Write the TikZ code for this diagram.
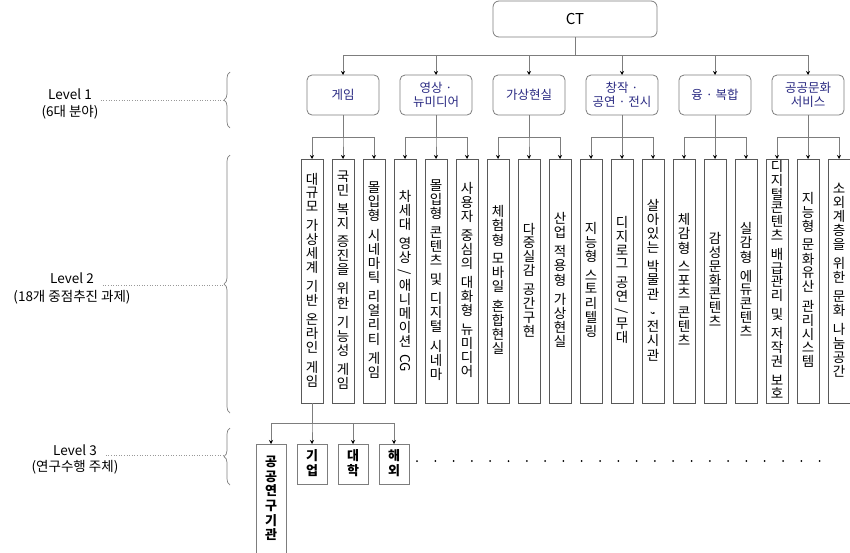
\documentclass[tikz,border=0pt]{standalone}
\usepackage{fontspec}
\setmainfont{Noto Sans CJK KR}
\usetikzlibrary{arrows.meta, positioning, decorations.pathreplacing}

\definecolor{navytxt}{RGB}{42,42,130}
\definecolor{linegray}{RGB}{125,125,125}

% characters stacked top to bottom, a space gives a small gap
\ExplSyntaxOn
\tl_new:N \l_vt_tl
\NewDocumentCommand \vtext { O{13.5pt} m }
  {
    \tl_set:Nn \l_vt_tl {#2}
    \tl_replace_all:Nnn \l_vt_tl { ~ } { \vtgap }
    \vbox
      {
        \offinterlineskip
        \tl_map_inline:Nn \l_vt_tl
          {
            \str_if_eq:nnTF { ##1 } { \vtgap }
              { \kern 5pt }
              {
                \hbox_to_wd:nn { 1.2em }
                  { \hss \rule[-0.22\dimexpr#1\relax]{0pt}{#1} ##1 \hss }
              }
          }
      }
  }
\ExplSyntaxOff
\newcommand{\vrot}[1]{\rotatebox[origin=c]{-90}{#1}}

\begin{document}
\begin{tikzpicture}[
    x = 1pt, y = -1pt, % pixel grid of the reference
    line width = 0.8pt,
    outer sep = 0pt,
    font = \fontsize{12.5pt}{13.5pt}\selectfont
]
\useasboundingbox (0,0) rectangle (850,552);

\tikzstyle{head}=[draw=linegray, rounded corners=6pt, minimum width=164pt, minimum height=36pt, font=\fontsize{15pt}{17pt}\selectfont]
\tikzstyle{field}=[draw=linegray, rounded corners=5pt, minimum width=72pt, minimum height=40pt, inner sep=0pt, align=center, text=navytxt]
\tikzstyle{task}=[draw=black!65, minimum width=22pt, minimum height=244pt, inner sep=0pt, font=\fontsize{13.5pt}{13.5pt}\selectfont]
\tikzstyle{actor}=[draw=linegray, minimum width=30pt, inner sep=0pt, font=\fontsize{13pt}{14pt}\selectfont\bfseries]
\tikzstyle{lvtext}=[font=\fontsize{13.5pt}{14pt}\selectfont, inner sep=1pt]
\tikzstyle{link}=[draw=linegray, -{Stealth[black, length=4pt, width=4pt]}]
\tikzstyle{guide}=[draw=gray!80, dotted, line width=0.6pt]
\tikzstyle{brace}=[draw=gray, decorate, decoration={brace, amplitude=6pt}, line width=0.7pt]

\node[head] (ct) at (575,19) {CT};

% Level 1
\node[field] (g1) at (343,95) {게임};
\node[field, right=21pt of g1] (g2) {영상 ·\\뉴미디어};
\node[field, right=21pt of g2] (g3) {가상현실};
\node[field, right=21pt of g3] (g4) {창작 ·\\공연 · 전시};
\node[field, right=21pt of g4] (g5) {융 · 복합};
\node[field, right=21pt of g5] (g6) {공공문화\\서비스};

% Level 2
\node[task, below=44pt of g1] (t2) {\vtext{국민 복지 증진을 위한 기능성 게임}};
\node[task, left=9pt of t2] (t1) {\vtext{대규모 가상세계 기반 온라인 게임}};
\node[task, right=9pt of t2] (t3) {\vtext{몰입형 시네마틱 리얼리티 게임}};
\node[task, below=44pt of g2] (t5) {\vtext{몰입형 콘텐츠 및 디지털 시네마}};
\node[task, left=9pt of t5] (t4) {\vtext{차세대 영상{\vrot{/}}애니메이션 {\vrot{CG}}}};
\node[task, right=9pt of t5] (t6) {\vtext{사용자 중심의 대화형 뉴미디어}};
\node[task, below=44pt of g3] (t8) {\vtext{다중실감 공간구현}};
\node[task, left=9pt of t8] (t7) {\vtext{체험형 모바일 혼합현실}};
\node[task, right=9pt of t8] (t9) {\vtext{산업 적용형 가상현실}};
\node[task, below=44pt of g4] (t11) {\vtext{디지로그 공연{\vrot{/}}무대}};
\node[task, left=9pt of t11] (t10) {\vtext{지능형 스토리텔링}};
\node[task, right=9pt of t11] (t12) {\vtext{살아있는 박물관{\vrot{,}} 전시관}};
\node[task, below=44pt of g5] (t14) {\vtext{감성문화콘텐츠}};
\node[task, left=9pt of t14] (t13) {\vtext{체감형 스포츠 콘텐츠}};
\node[task, right=9pt of t14] (t15) {\vtext{실감형 에듀콘텐츠}};
\node[task, below=44pt of g6] (t17) {\vtext{지능형 문화유산 관리시스템}};
\node[task, left=9pt of t17] (t16) {\vtext[12.8pt]{디지털콘텐츠 배급관리 및 저작권 보호}};
\node[task, right=9pt of t17] (t18) {\vtext{소외계층을 위한 문화 나눔공간}};

% Level 3
\node[actor, minimum height=40pt, below=41pt of t1] (r2) {\vtext[14.7pt]{기업}};
\node[actor, minimum height=110pt, left=11pt of r2.north west, anchor=north east] (r1) {\vtext[14.7pt]{공공연구기관}};
\node[actor, minimum height=40pt, right=11pt of r2] (r3) {\vtext[14.7pt]{대학}};
\node[actor, minimum height=40pt, right=11pt of r3] (r4) {\vtext[14.7pt]{해외}};
\foreach \i in {0,...,22}
    \fill (417+18.3*\i,461) circle (1pt);

% connectors
\foreach \g in {g1,g2,g3,g4,g5,g6}
    \draw[link] (ct.south) -- ++(0,18) -| (\g.north);
\foreach \a/\b in {g1/t1,g1/t2,g1/t3,g2/t4,g2/t5,g2/t6,g3/t7,g3/t8,g3/t9,
                   g4/t10,g4/t11,g4/t12,g5/t13,g5/t14,g5/t15,g6/t16,g6/t17,g6/t18}
    \draw[link] (\a.south) -- ++(0,22) -| (\b.north);
\foreach \r in {r1,r2,r3,r4}
    \draw[link] (t1.south) -- ++(0,20) -| (\r.north);

% level labels
\draw[brace] (230,128) -- (230,72);
\draw[brace] (230,413) -- (230,155);
\draw[brace] (230,485) -- (230,428);
\coordinate (tip1) at (223,100);
\coordinate (tip2) at (223,285);
\coordinate (tip3) at (223,455);

\node[lvtext] (lv1) at (70,94) {Level 1};
\node[lvtext] (lv1n) at (70,112) {(6대 분야)};
\node[lvtext] (lv2) at (72,278) {Level 2};
\node[lvtext] (lv2n) at (72,297) {(18개 중점추진 과제)};
\node[lvtext] (lv3) at (75,450) {Level 3};
\node[lvtext] (lv3n) at (75,467) {(연구수행 주체)};
\draw[guide] (tip1 -| lv1.east) ++(8,0) -- (tip1);
\draw[guide] (tip2 -| lv2.east) ++(8,0) -- (tip2);
\draw[guide] (tip3 -| lv3.east) ++(8,0) -- (tip3);
\end{tikzpicture}
\end{document}
